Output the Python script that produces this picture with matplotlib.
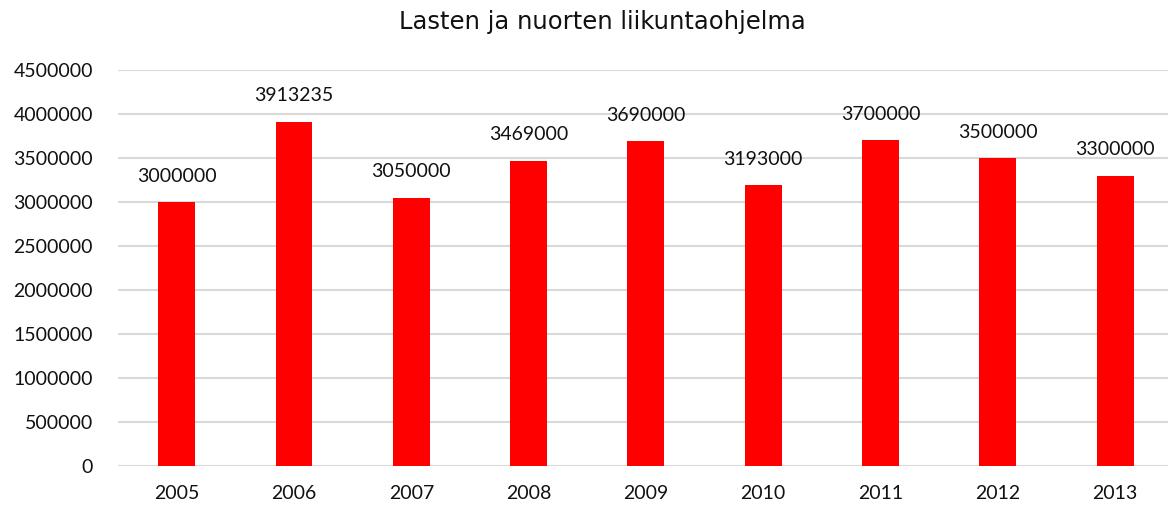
import matplotlib.pyplot as plt

years = ['2005', '2006', '2007', '2008', '2009', '2010', '2011', '2012', '2013']
amounts = [3000000, 3913235, 3050000, 3469000, 3690000, 3193000, 3700000, 3500000, 3300000]
yticks = [0, 500000, 1000000, 1500000, 2000000, 2500000, 3000000, 3500000, 4000000, 4500000]

plt.rcParams['font.family'] = ['Lato', 'DejaVu Sans']

fig = plt.figure(figsize=(11.68, 5.07), dpi=100)
ax = fig.add_axes([118 / 1168, 41.3 / 507, 1 - 118 / 1168, 395.7 / 507])

x = range(len(years))
ax.bar(x, amounts, width=0.315, color='#ff0000', zorder=2)

# value labels above bars
for xi, v in zip(x, amounts):
    ax.annotate(str(v), (xi, v), xytext=(0, 18.5), textcoords='offset points',
                ha='center', va='center', fontsize=14, color='#111111')

ax.set_xlim(-0.5, 8.45)
ax.set_ylim(0, 4500000)
ax.set_yticks(yticks)
ax.set_yticklabels([str(t) for t in yticks])
ax.set_xticks(list(x))
ax.set_xticklabels(years)
ax.tick_params(axis='both', length=0, labelsize=14, colors='#111111')
ax.tick_params(axis='y', pad=18)
ax.tick_params(axis='x', pad=14)
ax.grid(axis='y', color='#d9d9d9', linewidth=1.5, zorder=0)
for s in ax.spines.values():
    s.set_visible(False)

fig.text(602 / 1168, 1 - 29.5 / 507, 'Lasten ja nuorten liikuntaohjelma',
         ha='center', va='baseline', fontsize=17.5, color='#111111',
         family='DejaVu Sans')

fig.savefig('out.png', dpi=100)
